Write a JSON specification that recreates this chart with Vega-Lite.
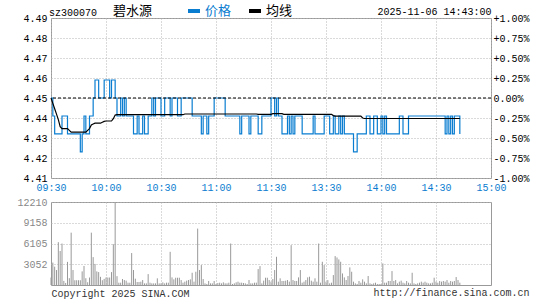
{
"$schema": "https://vega.github.io/schema/vega-lite/v6.json",
"background": "white",
"padding": {"left": 16, "top": 3, "right": 10, "bottom": 2},
"spacing": 24,
"bounds": "flush",
"config": {
  "view": {"stroke": "#999999", "strokeWidth": 1},
  "axis": {"labelFont": "Liberation Mono", "labelFontSize": 10, "ticks": false, "domain": false, "gridColor": "#b4b4b4", "gridDash": [1, 2], "gridWidth": 1, "labelPadding": 4},
  "title": {"font": "Liberation Mono", "fontSize": 10, "fontWeight": "normal", "color": "#000000"}
},
"title": {"text": "http://finance.sina.com.cn", "orient": "bottom", "anchor": "end", "color": "#333333", "offset": 2, "dy": -13},
"datasets": {"d": [
{"t":0,"p":4.45,"a":4.45,"v":1100},{"t":1,"p":4.44,"a":4.447,"v":3300},{"t":2,"p":4.43,"a":4.444,"v":2700},{"t":3,"p":4.43,"a":4.441,"v":2200},{"t":4,"p":4.43,"a":4.438,"v":6300},{"t":5,"p":4.43,"a":4.434,"v":5000},{"t":6,"p":4.44,"a":4.433,"v":6100},{"t":7,"p":4.44,"a":4.433,"v":600},{"t":8,"p":4.44,"a":4.433,"v":300},{"t":9,"p":4.43,"a":4.433,"v":3400},
{"t":10,"p":4.43,"a":4.432,"v":1000},{"t":11,"p":4.43,"a":4.431,"v":7700},{"t":12,"p":4.43,"a":4.431,"v":2200},{"t":13,"p":4.43,"a":4.431,"v":700},{"t":14,"p":4.43,"a":4.431,"v":700},{"t":15,"p":4.43,"a":4.431,"v":700},{"t":16,"p":4.42,"a":4.431,"v":700},{"t":17,"p":4.43,"a":4.431,"v":2000},{"t":18,"p":4.44,"a":4.431,"v":2800},{"t":19,"p":4.43,"a":4.431,"v":1000},
{"t":20,"p":4.43,"a":4.432,"v":400},{"t":21,"p":4.44,"a":4.433,"v":1100},{"t":22,"p":4.44,"a":4.435,"v":7700},{"t":23,"p":4.45,"a":4.4355,"v":4100},{"t":24,"p":4.46,"a":4.436,"v":3100},{"t":25,"p":4.46,"a":4.436,"v":2000},{"t":26,"p":4.45,"a":4.436,"v":1900},{"t":27,"p":4.45,"a":4.436,"v":1200},{"t":28,"p":4.45,"a":4.4365,"v":700},{"t":29,"p":4.46,"a":4.437,"v":900},
{"t":30,"p":4.46,"a":4.4372,"v":1100},{"t":31,"p":4.46,"a":4.4372,"v":1100},{"t":32,"p":4.45,"a":4.4372,"v":1100},{"t":33,"p":4.46,"a":4.4372,"v":1900},{"t":34,"p":4.46,"a":4.4385,"v":6000},{"t":35,"p":4.45,"a":4.4405,"v":12210},{"t":36,"p":4.44,"a":4.4407,"v":1300},{"t":37,"p":4.44,"a":4.4407,"v":340},{"t":38,"p":4.45,"a":4.4407,"v":340},{"t":39,"p":4.44,"a":4.4407,"v":880},
{"t":40,"p":4.45,"a":4.4407,"v":730},{"t":41,"p":4.44,"a":4.4407,"v":640},{"t":42,"p":4.44,"a":4.4407,"v":340},{"t":43,"p":4.44,"a":4.4407,"v":340},{"t":44,"p":4.44,"a":4.4407,"v":4700},{"t":45,"p":4.43,"a":4.4407,"v":2200},{"t":46,"p":4.43,"a":4.4407,"v":930},{"t":47,"p":4.44,"a":4.4407,"v":440},{"t":48,"p":4.43,"a":4.4407,"v":440},{"t":49,"p":4.43,"a":4.4407,"v":490},
{"t":50,"p":4.44,"a":4.4407,"v":730},{"t":51,"p":4.43,"a":4.4407,"v":240},{"t":52,"p":4.43,"a":4.4407,"v":240},{"t":53,"p":4.44,"a":4.4407,"v":1600},{"t":54,"p":4.44,"a":4.4407,"v":340},{"t":55,"p":4.45,"a":4.4407,"v":240},{"t":56,"p":4.44,"a":4.4407,"v":240},{"t":57,"p":4.45,"a":4.4407,"v":240},{"t":58,"p":4.45,"a":4.4407,"v":980},{"t":59,"p":4.45,"a":4.4407,"v":240},
{"t":60,"p":4.44,"a":4.4407,"v":240},{"t":61,"p":4.44,"a":4.4407,"v":390},{"t":62,"p":4.45,"a":4.4407,"v":240},{"t":63,"p":4.45,"a":4.4407,"v":340},{"t":64,"p":4.45,"a":4.4407,"v":340},{"t":65,"p":4.44,"a":4.4407,"v":4880},{"t":66,"p":4.45,"a":4.4407,"v":1120},{"t":67,"p":4.45,"a":4.4407,"v":830},{"t":68,"p":4.45,"a":4.4407,"v":1070},{"t":69,"p":4.44,"a":4.4407,"v":1070},
{"t":70,"p":4.44,"a":4.4407,"v":1070},{"t":71,"p":4.45,"a":4.4407,"v":730},{"t":72,"p":4.45,"a":4.4407,"v":340},{"t":73,"p":4.45,"a":4.4411,"v":490},{"t":74,"p":4.45,"a":4.4411,"v":640},{"t":75,"p":4.45,"a":4.4411,"v":730},{"t":76,"p":4.45,"a":4.4411,"v":830},{"t":77,"p":4.44,"a":4.4411,"v":1800},{"t":78,"p":4.44,"a":4.4411,"v":490},{"t":79,"p":4.44,"a":4.4411,"v":1950},
{"t":80,"p":4.44,"a":4.4411,"v":8300},{"t":81,"p":4.44,"a":4.4411,"v":2200},{"t":82,"p":4.43,"a":4.4411,"v":2930},{"t":83,"p":4.44,"a":4.4411,"v":880},{"t":84,"p":4.44,"a":4.4411,"v":240},{"t":85,"p":4.43,"a":4.4411,"v":150},{"t":86,"p":4.44,"a":4.4411,"v":590},{"t":87,"p":4.44,"a":4.4411,"v":240},{"t":88,"p":4.44,"a":4.4411,"v":240},{"t":89,"p":4.45,"a":4.4411,"v":590},
{"t":90,"p":4.45,"a":4.4411,"v":150},{"t":91,"p":4.45,"a":4.4411,"v":290},{"t":92,"p":4.45,"a":4.4411,"v":340},{"t":93,"p":4.45,"a":4.4411,"v":240},{"t":94,"p":4.45,"a":4.4411,"v":390},{"t":95,"p":4.44,"a":4.4411,"v":240},{"t":96,"p":4.44,"a":4.4411,"v":240},{"t":97,"p":4.44,"a":4.4411,"v":340},{"t":98,"p":4.44,"a":4.4411,"v":6100},{"t":99,"p":4.44,"a":4.4411,"v":150},
{"t":100,"p":4.44,"a":4.4411,"v":240},{"t":101,"p":4.44,"a":4.4411,"v":390},{"t":102,"p":4.44,"a":4.4411,"v":490},{"t":103,"p":4.43,"a":4.4411,"v":340},{"t":104,"p":4.44,"a":4.4411,"v":340},{"t":105,"p":4.44,"a":4.4411,"v":290},{"t":106,"p":4.44,"a":4.4411,"v":240},{"t":107,"p":4.44,"a":4.4411,"v":150},{"t":108,"p":4.43,"a":4.4411,"v":730},{"t":109,"p":4.44,"a":4.4411,"v":240},
{"t":110,"p":4.44,"a":4.4411,"v":240},{"t":111,"p":4.44,"a":4.4411,"v":340},{"t":112,"p":4.44,"a":4.4411,"v":340},{"t":113,"p":4.43,"a":4.4409,"v":2340},{"t":114,"p":4.43,"a":4.4409,"v":2780},{"t":115,"p":4.44,"a":4.4409,"v":240},{"t":116,"p":4.44,"a":4.4409,"v":640},{"t":117,"p":4.44,"a":4.4409,"v":1070},{"t":118,"p":4.44,"a":4.4409,"v":1070},{"t":119,"p":4.44,"a":4.4409,"v":730},
{"t":120,"p":4.45,"a":4.4409,"v":490},{"t":121,"p":4.45,"a":4.4413,"v":880},{"t":122,"p":4.44,"a":4.4413,"v":2200},{"t":123,"p":4.45,"a":4.4413,"v":4150},{"t":124,"p":4.44,"a":4.4413,"v":490},{"t":125,"p":4.44,"a":4.4413,"v":980},{"t":126,"p":4.43,"a":4.4413,"v":590},{"t":127,"p":4.43,"a":4.4409,"v":590},{"t":128,"p":4.43,"a":4.4409,"v":640},{"t":129,"p":4.44,"a":4.4409,"v":730},
{"t":130,"p":4.43,"a":4.4409,"v":490},{"t":131,"p":4.44,"a":4.4409,"v":5860},{"t":132,"p":4.43,"a":4.4409,"v":730},{"t":133,"p":4.44,"a":4.4409,"v":590},{"t":134,"p":4.44,"a":4.4409,"v":590},{"t":135,"p":4.44,"a":4.4409,"v":1120},{"t":136,"p":4.44,"a":4.4409,"v":2200},{"t":137,"p":4.43,"a":4.4409,"v":340},{"t":138,"p":4.43,"a":4.4409,"v":490},{"t":139,"p":4.43,"a":4.4409,"v":730},
{"t":140,"p":4.43,"a":4.4409,"v":1120},{"t":141,"p":4.43,"a":4.4409,"v":1220},{"t":142,"p":4.43,"a":4.4409,"v":640},{"t":143,"p":4.44,"a":4.4409,"v":490},{"t":144,"p":4.43,"a":4.4409,"v":980},{"t":145,"p":4.43,"a":4.4409,"v":490},{"t":146,"p":4.43,"a":4.4409,"v":6100},{"t":147,"p":4.43,"a":4.4409,"v":340},{"t":148,"p":4.43,"a":4.4409,"v":3420},{"t":149,"p":4.44,"a":4.4409,"v":2930},
{"t":150,"p":4.44,"a":4.4409,"v":490},{"t":151,"p":4.44,"a":4.4409,"v":730},{"t":152,"p":4.43,"a":4.4409,"v":240},{"t":153,"p":4.43,"a":4.4409,"v":340},{"t":154,"p":4.44,"a":4.4402,"v":1460},{"t":155,"p":4.43,"a":4.4399,"v":4250},{"t":156,"p":4.43,"a":4.4399,"v":4050},{"t":157,"p":4.44,"a":4.4399,"v":3760},{"t":158,"p":4.43,"a":4.4399,"v":3420},{"t":159,"p":4.44,"a":4.4399,"v":1700},
{"t":160,"p":4.43,"a":4.4399,"v":1120},{"t":161,"p":4.43,"a":4.4399,"v":730},{"t":162,"p":4.43,"a":4.4399,"v":1320},{"t":163,"p":4.43,"a":4.4399,"v":2590},{"t":164,"p":4.43,"a":4.4399,"v":1950},{"t":165,"p":4.42,"a":4.4399,"v":490},{"t":166,"p":4.42,"a":4.4399,"v":240},{"t":167,"p":4.43,"a":4.4399,"v":150},{"t":168,"p":4.43,"a":4.4399,"v":590},{"t":169,"p":4.43,"a":4.4399,"v":340},
{"t":170,"p":4.43,"a":4.4389,"v":830},{"t":171,"p":4.43,"a":4.4386,"v":490},{"t":172,"p":4.44,"a":4.4386,"v":240},{"t":173,"p":4.44,"a":4.4386,"v":1320},{"t":174,"p":4.43,"a":4.4386,"v":240},{"t":175,"p":4.43,"a":4.4386,"v":150},{"t":176,"p":4.44,"a":4.4386,"v":240},{"t":177,"p":4.44,"a":4.4386,"v":340},{"t":178,"p":4.43,"a":4.4386,"v":150},{"t":179,"p":4.43,"a":4.4386,"v":150},
{"t":180,"p":4.44,"a":4.4386,"v":150},{"t":181,"p":4.43,"a":4.4386,"v":3170},{"t":182,"p":4.44,"a":4.4386,"v":340},{"t":183,"p":4.43,"a":4.4386,"v":340},{"t":184,"p":4.43,"a":4.4386,"v":590},{"t":185,"p":4.43,"a":4.4386,"v":590},{"t":186,"p":4.43,"a":4.4386,"v":2050},{"t":187,"p":4.43,"a":4.4386,"v":590},{"t":188,"p":4.43,"a":4.4386,"v":730},{"t":189,"p":4.43,"a":4.4386,"v":240},
{"t":190,"p":4.44,"a":4.4386,"v":490},{"t":191,"p":4.44,"a":4.4386,"v":640},{"t":192,"p":4.43,"a":4.4386,"v":340},{"t":193,"p":4.43,"a":4.4386,"v":240},{"t":194,"p":4.43,"a":4.4386,"v":590},{"t":195,"p":4.44,"a":4.4386,"v":340},{"t":196,"p":4.44,"a":4.4386,"v":240},{"t":197,"p":4.44,"a":4.4386,"v":1800},{"t":198,"p":4.44,"a":4.4386,"v":240},{"t":199,"p":4.44,"a":4.4386,"v":150},
{"t":200,"p":4.44,"a":4.4386,"v":240},{"t":201,"p":4.44,"a":4.4386,"v":340},{"t":202,"p":4.44,"a":4.4386,"v":490},{"t":203,"p":4.44,"a":4.4386,"v":340},{"t":204,"p":4.44,"a":4.4386,"v":490},{"t":205,"p":4.44,"a":4.4386,"v":340},{"t":206,"p":4.44,"a":4.4386,"v":240},{"t":207,"p":4.44,"a":4.4386,"v":240},{"t":208,"p":4.44,"a":4.4386,"v":340},{"t":209,"p":4.44,"a":4.4386,"v":1070},
{"t":210,"p":4.44,"a":4.4386,"v":490},{"t":211,"p":4.44,"a":4.4386,"v":340},{"t":212,"p":4.44,"a":4.4386,"v":590},{"t":213,"p":4.44,"a":4.4386,"v":490},{"t":214,"p":4.44,"a":4.4386,"v":590},{"t":215,"p":4.43,"a":4.4386,"v":490},{"t":216,"p":4.44,"a":4.4386,"v":730},{"t":217,"p":4.43,"a":4.4386,"v":340},{"t":218,"p":4.44,"a":4.4386,"v":590},{"t":219,"p":4.43,"a":4.4386,"v":490},
{"t":220,"p":4.44,"a":4.4386,"v":590},{"t":221,"p":4.44,"a":4.4386,"v":1170},{"t":222,"p":4.44,"a":4.4386,"v":730},{"t":223,"p":4.43,"a":4.4386,"v":340}
]},
"vconcat": [
{
  "width": 440, "height": 160,
  "title": {"text": "sz300070", "anchor": "start", "frame": "group", "dx": -2, "dy": 16, "offset": 4},
  "layer": [
    {
      "data": {"name": "d"},
      "mark": {"type": "line", "interpolate": "step-after", "strokeWidth": 1.2},
      "encoding": {
        "x": {"field": "t", "type": "quantitative", "scale": {"domain": [0, 240], "nice": false, "zero": false},
              "axis": {"orient": "bottom", "values": [0, 30, 60, 90, 120, 150, 180, 210, 240], "labelExpr": "['09:30','10:00','10:30','11:00','11:30','13:30','14:00','14:30','15:00'][round(datum.value/30)]", "labelColor": "#0a7dd0", "labelPadding": 4, "labelFlush": false, "grid": true, "title": null}},
        "y": {"field": "p", "type": "quantitative", "scale": {"domain": [4.4055, 4.4945], "nice": false, "zero": false},
              "axis": {"values": [4.4055, 4.416625, 4.42775, 4.438875, 4.45, 4.461125, 4.47225, 4.483375, 4.4945], "labelExpr": "format(datum.value, '.2f')", "grid": true, "title": null,
                       "encode": {"labels": {"update": {"fill": {"signal": "datum.value > 4.4501 ? '#ff0000' : datum.value > 4.4499 ? '#000000' : '#0a7dd0'"}}}}}},
        "color": {"datum": "价格", "scale": {"domain": ["价格", "均线"], "range": ["#0a7dd0", "#000000"]},
                  "legend": {"orient": "none", "legendX": 62, "legendY": -15, "direction": "horizontal", "title": "碧水源", "titleOrient": "left", "titleFont": "Noto Sans CJK SC", "titleFontSize": 13, "titleFontWeight": "normal", "titleColor": "#000000", "titlePadding": 33, "labelFont": "Noto Sans CJK SC", "labelFontSize": 13, "labelOffset": 3, "symbolType": "stroke", "symbolStrokeWidth": 4, "symbolSize": 144, "columnPadding": 9,
                             "encode": {"labels": {"update": {"fill": {"signal": "datum.value === '价格' ? '#0a7dd0' : '#000000'"}}}}}}
      }
    },
    {
      "data": {"name": "d"},
      "mark": {"type": "line", "strokeWidth": 1.2},
      "encoding": {
        "x": {"field": "t", "type": "quantitative",
              "axis": {"orient": "top", "labels": false, "grid": false, "title": "2025-11-06 14:43:00", "titleAnchor": "end", "titlePadding": 2, "titleFont": "Liberation Mono", "titleFontSize": 10, "titleFontWeight": "normal", "titleColor": "#000000"}},
        "y": {"field": "a", "type": "quantitative",
              "axis": {"orient": "right", "values": [4.4055, 4.416625, 4.42775, 4.438875, 4.45, 4.461125, 4.47225, 4.483375, 4.4945], "labelExpr": "(datum.value > 4.4501 ? '+' : datum.value < 4.4499 ? '-' : '') + format(abs((datum.value / 4.45 - 1) * 100), '.2f') + '%'", "grid": false, "title": null, "labelPadding": 2,
                       "encode": {"labels": {"update": {"fill": {"signal": "datum.value > 4.4501 ? '#ff0000' : datum.value > 4.4499 ? '#000000' : '#0a7dd0'"}}}}}},
        "color": {"datum": "均线"}
      }
    },
    {
      "data": {"values": [{}]},
      "mark": {"type": "rule", "strokeDash": [3, 2], "color": "#000000", "strokeWidth": 1},
      "encoding": {"y": {"datum": 4.45, "axis": null}}
    }
  ],
  "resolve": {"axis": {"x": "independent", "y": "independent"}}
},
{
  "width": 440, "height": 83,
  "data": {"name": "d"},
  "mark": {"type": "rule", "color": "#999999", "strokeWidth": 1},
  "encoding": {
    "x": {"field": "t", "type": "quantitative", "scale": {"domain": [0, 240], "nice": false, "zero": false},
          "axis": {"values": [30, 60, 90, 120, 150, 180, 210], "labels": false, "grid": true, "title": "Copyright 2025 SINA.COM", "titleAnchor": "start", "titlePadding": 3, "titleFont": "Liberation Mono", "titleFontSize": 10, "titleFontWeight": "normal", "titleColor": "#333333"}},
    "y": {"field": "v", "type": "quantitative", "scale": {"domain": [0, 12210], "nice": false},
          "axis": {"values": [3052, 6105, 9158, 12210], "format": "d", "labelColor": "#888888", "grid": true, "title": null}},
    "y2": {"datum": 0}
  }
}
]
}
